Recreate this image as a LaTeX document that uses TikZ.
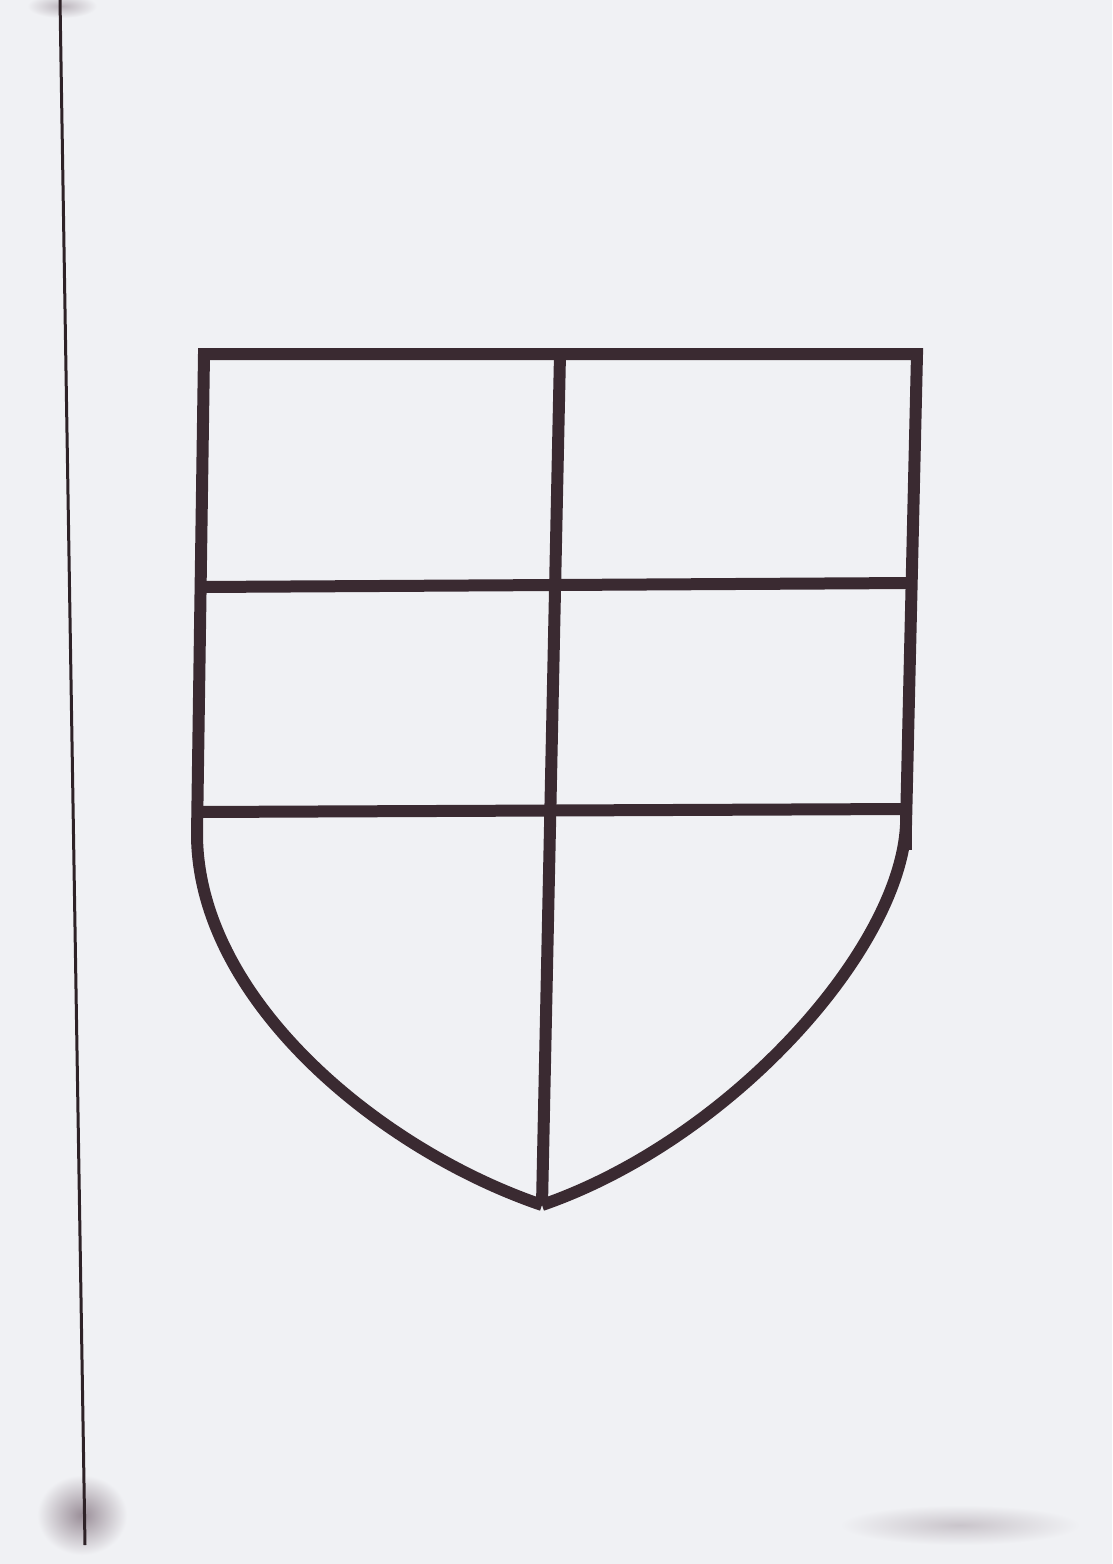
\documentclass[tikz,border=0pt]{standalone}
\usetikzlibrary{calc}
\definecolor{paper}{HTML}{F0F1F4}
\definecolor{ink}{HTML}{3A2A31}
\definecolor{smudge}{HTML}{9A8E98}
\tikzset{
  shieldline/.style={draw=ink, line width=12pt, line cap=butt, line join=miter},
  scanline/.style={draw=ink!80!black, line width=3pt}
}
\begin{document}
\begin{tikzpicture}[x=1pt,y=-1pt]
  \fill[paper] (0,0) rectangle (1112,1564);
  \useasboundingbox (0,0) rectangle (1112,1564);
  % scanner smudges
  \shade[inner color=smudge, outer color=paper] (82,1515) ellipse [x radius=45pt, y radius=40pt];
  \shade[inner color=smudge!60!paper, outer color=paper] (62,6) ellipse [x radius=35pt, y radius=12pt];
  \shade[inner color=smudge!45!paper, outer color=paper] (960,1525) ellipse [x radius=120pt, y radius=20pt];
  % scan line
  \coordinate (s1) at (60,0);
  \coordinate (s2) at (85,1545);
  \draw[scanline] (s1) -- (s2);
  % shield key points
  \coordinate (TL) at (204,354);
  \coordinate (TR) at (917,354);
  \coordinate (TM) at (560,354);
  \coordinate (L1) at (200,587);
  \coordinate (R1) at (912,583);
  \coordinate (L2) at (197,812);
  \coordinate (R2) at (907,809);
  \coordinate (LC) at (197,835);
  \coordinate (RC) at (906,825);
  \coordinate (RS) at (906,850);
  \coordinate (TIP) at (542,1205);
  % outline
  \draw[shieldline] (TIP) .. controls (380,1150) and (198,1000) .. (LC)
        -- (TL) -- (TR) -- (RC)
        .. controls (900,950) and (730,1140) .. (TIP);
  \draw[shieldline] (RC) -- (RS);
  % inner lines
  \draw[shieldline] (TM) -- (TIP);
  \draw[shieldline] (L1) -- (R1);
  \draw[shieldline] (L2) -- (R2);
\end{tikzpicture}
\end{document}
